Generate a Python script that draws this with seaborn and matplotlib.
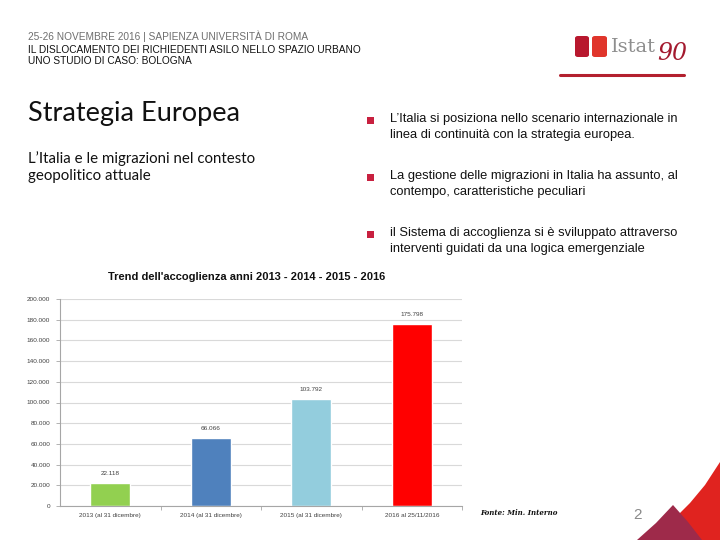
import matplotlib
matplotlib.use("Agg")
import matplotlib.pyplot as plt
import matplotlib.patches as mpatches
import seaborn as sns
import pandas as pd
from matplotlib.ticker import FuncFormatter, FixedLocator

# ---- data ----
categories = ["2013 (al 31 dicembre)", "2014 (al 31 dicembre)",
              "2015 (al 31 dicembre)", "2016 al 25/11/2016"]
values = [22118, 66066, 103792, 175798]
value_labels = ["22.118", "66.066", "103.792", "175.798"]
bar_colors = ["#92D050", "#4F81BD", "#93CDDD", "#FF0000"]
y_ticks = [0, 20000, 40000, 60000, 80000, 100000, 120000, 140000, 160000, 180000, 200000]

chart_title = "Trend dell'accoglienza anni 2013 - 2014 - 2015 - 2016"
bullets = [
    "L\u2019Italia si posiziona nello scenario internazionale in\nlinea di continuità con la strategia europea.",
    "La gestione delle migrazioni in Italia ha assunto, al\ncontempo, caratteristiche peculiari",
    "il Sistema di accoglienza si è sviluppato attraverso\ninterventi guidati da una logica emergenziale",
]

sns.set_theme(style="white")
plt.rcParams["font.family"] = ["Liberation Sans", "DejaVu Sans"]

W, H = 720, 540
fig = plt.figure(figsize=(7.2, 5.4), dpi=100)
fig.patch.set_facecolor("white")

def fx(x): return x / W
def fy(y): return 1 - y / H

NARROW = ["Liberation Sans Narrow", "Liberation Sans"]

# ---- header ----
fig.text(fx(28), fy(36), "25-26 NOVEMBRE 2016 | SAPIENZA UNIVERSITÀ DI ROMA",
         fontsize=7.3, color="#6E6E6E", va="center", ha="left")
fig.text(fx(28), fy(50), "IL DISLOCAMENTO DEI RICHIEDENTI ASILO NELLO SPAZIO URBANO",
         fontsize=7.3, color="#111111", va="center", ha="left")
fig.text(fx(28), fy(61), "UNO STUDIO DI CASO: BOLOGNA",
         fontsize=7.3, color="#111111", va="center", ha="left")

# logo
fig.patches.append(mpatches.FancyBboxPatch((fx(575), fy(57)), fx(14), fy(36) - fy(57),
                   boxstyle="round,pad=0,rounding_size=0.004", transform=fig.transFigure,
                   facecolor="#B8182E", edgecolor="none"))
fig.patches.append(mpatches.FancyBboxPatch((fx(592), fy(57)), fx(15), fy(36) - fy(57),
                   boxstyle="round,pad=0,rounding_size=0.004", transform=fig.transFigure,
                   facecolor="#E0352B", edgecolor="none"))
fig.text(fx(611), fy(47), "Istat", fontsize=14, color="#8E8E8E", family="DejaVu Serif",
         va="center", ha="left")
fig.text(fx(657), fy(53), "90", fontsize=17, color="#A3192E", family="DejaVu Serif",
         style="italic", va="center", ha="left")
fig.add_artist(plt.Line2D([fx(560), fx(684)], [fy(75), fy(75)], color="#B3202E",
                          lw=2.2, transform=fig.transFigure))

# ---- left titles ----
fig.text(fx(28), fy(114), "Strategia Europea", fontsize=19.5, color="#111111",
         family=["Lato", "DejaVu Sans"], va="center", ha="left")
fig.text(fx(28), fy(167), "L\u2019Italia e le migrazioni nel contesto\ngeopolitico attuale",
         fontsize=10.8, color="#111111", family=["Lato", "DejaVu Sans"], va="center",
         ha="left", linespacing=1.25)

# ---- bullets ----
bullet_y = [127, 184, 241]
for by, txt in zip(bullet_y, bullets):
    fig.patches.append(mpatches.Rectangle((fx(367), fy(by - 3)), fx(7), fy(0) - fy(7),
                       transform=fig.transFigure, facecolor="#C8203F", edgecolor="none"))
    fig.text(fx(390), fy(by), txt, fontsize=9.3, color="#111111", family=NARROW,
             va="center", ha="left", linespacing=1.45)

# ---- chart ----
fig.text(fx(247), fy(277), chart_title, fontsize=8.0, fontweight="bold",
         color="#111111", family=NARROW, ha="center", va="center")

ax = fig.add_axes([fx(60), fy(506), fx(462) - fx(60), fy(299) - fy(506)])
df = pd.DataFrame({"cat": categories, "val": values})
sns.barplot(data=df, x="cat", y="val", hue="cat", palette=bar_colors,
            width=0.4, legend=False, ax=ax, saturation=1)
ax.set_ylim(0, 200000)
ax.set_xlim(-0.5, 3.5)
ax.yaxis.set_major_locator(FixedLocator(y_ticks))
ax.yaxis.set_major_formatter(FuncFormatter(lambda v, p: "0" if v == 0 else f"{int(v):,}".replace(",", ".")))
ax.grid(axis="y", color="#D9D9D9", lw=0.8)
ax.set_axisbelow(True)
ax.set_xlabel("")
ax.set_ylabel("")
for s in ["top", "right"]:
    ax.spines[s].set_visible(False)
for s in ["left", "bottom"]:
    ax.spines[s].set_color("#A6A6A6")
    ax.spines[s].set_linewidth(0.8)
ax.tick_params(axis="y", labelsize=4.6, labelcolor="#404040", length=3, width=0.6,
               color="#A6A6A6", left=True, pad=4)
ax.tick_params(axis="x", labelsize=4.6, labelcolor="#404040", length=0, pad=5)
ax.set_xticks(range(4))
ax.set_xticklabels(categories)
ax.xaxis.set_minor_locator(FixedLocator([0.5, 1.5, 2.5, 3.5]))
ax.tick_params(axis="x", which="minor", length=3, width=0.6, color="#A6A6A6", bottom=True)
for i, cont in enumerate(ax.containers):
    ax.bar_label(cont, labels=[value_labels[i]], padding=5, fontsize=4.6, color="#404040")

# ---- footer ----
fig.text(fx(480), fy(513), "Fonte: Min. Interno", fontsize=5, family="DejaVu Serif",
         style="italic", fontweight="bold", color="#111111", va="center", ha="left")
fig.text(fx(638), fy(515), "2", fontsize=11, color="#8A8A8A", va="center", ha="center")

# corner decoration
fig.patches.append(mpatches.Polygon([(fx(720), fy(462)), (fx(705), fy(485)),
                                     (fx(690), fy(503)), (fx(678), fy(515)),
                                     (fx(700), fy(540)), (fx(720), fy(540))],
                                    closed=True, transform=fig.transFigure,
                                    facecolor="#E0231F", edgecolor="none"))
fig.patches.append(mpatches.Polygon([(fx(637), fy(540)), (fx(656), fy(523)),
                                     (fx(673), fy(505)), (fx(688), fy(522)),
                                     (fx(702), fy(540))],
                                    closed=True, transform=fig.transFigure,
                                    facecolor="#9E2A4A", edgecolor="none"))

fig.savefig("out.png", dpi=100)
